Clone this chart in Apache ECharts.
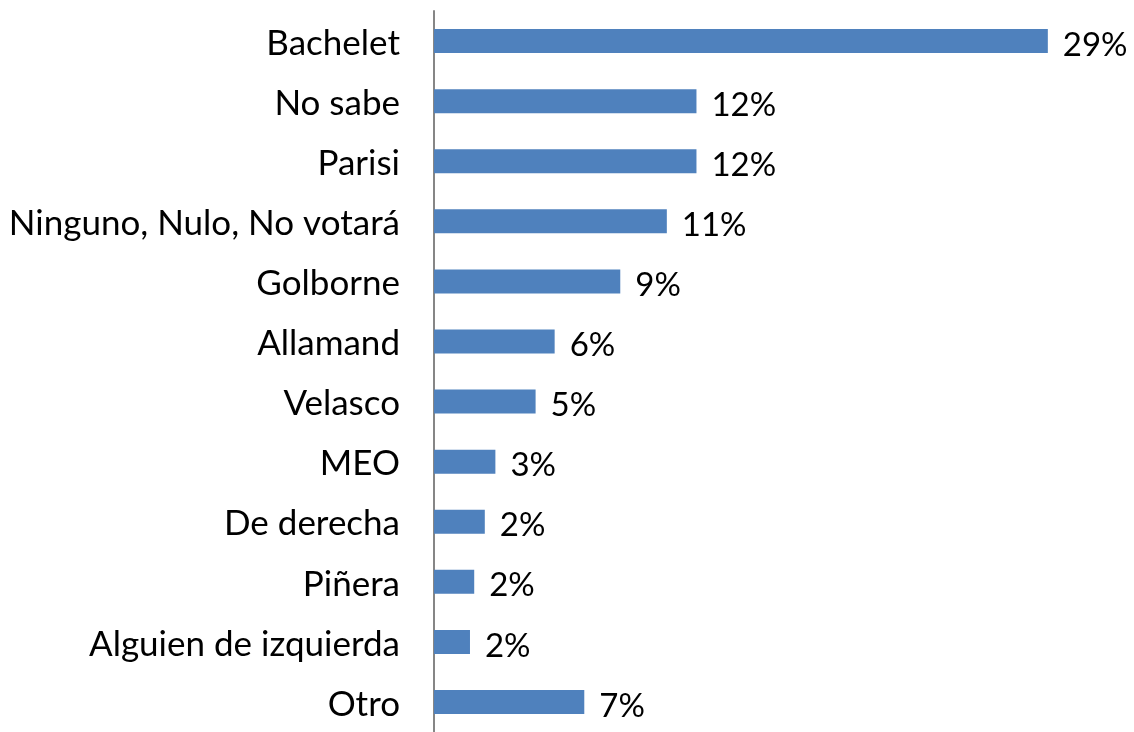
<!DOCTYPE html>
<html>
<head>
<meta charset="utf-8">
<script src="https://cdn.jsdelivr.net/npm/echarts@6/dist/echarts.min.js"></script>
<style>
html,body{margin:0;padding:0;background:#fff;}
#main{width:1134px;height:732px;}
</style>
</head>
<body>
<div id="main"></div>
<script>
const categories = ["Bachelet","No sabe","Parisi","Ninguno, Nulo, No votará","Golborne","Allamand","Velasco","MEO","De derecha","Piñera","Alguien de izquierda","Otro"];
const values = [29.0, 12.4, 12.4, 11.0, 8.8, 5.7, 4.8, 2.9, 2.4, 1.9, 1.7, 7.1];

const chart = echarts.init(document.getElementById('main'));
chart.setOption({
  animation: false,
  backgroundColor: '#ffffff',
  grid: { left: 434, right: 65, top: 11, bottom: -8, containLabel: false },
  xAxis: {
    type: 'value', min: 0, max: 30, show: false
  },
  yAxis: {
    type: 'category', data: categories, inverse: true,
    axisLine: { show: true, lineStyle: { color: '#868686', width: 2 } },
    axisTick: { show: false },
    splitLine: { show: false },
    axisLabel: {
      color: '#000000', fontFamily: 'Lato', fontSize: 35, margin: 34,
      formatter: v => '{c|' + v + '}',
      rich: { c: { color: '#000000', fontFamily: 'Lato', fontSize: 35, padding: [5, 0, 0, 0] } }
    }
  },
  series: [{
    type: 'bar', data: values, barWidth: 24,
    itemStyle: { color: '#4F81BD' },
    label: {
      show: true, position: 'right', distance: 15, offset: [0, 4],
      color: '#000000', fontFamily: 'Lato', fontSize: 33,
      formatter: p => Math.round(p.value) + '%'
    }
  }]
});
</script>
</body>
</html>
